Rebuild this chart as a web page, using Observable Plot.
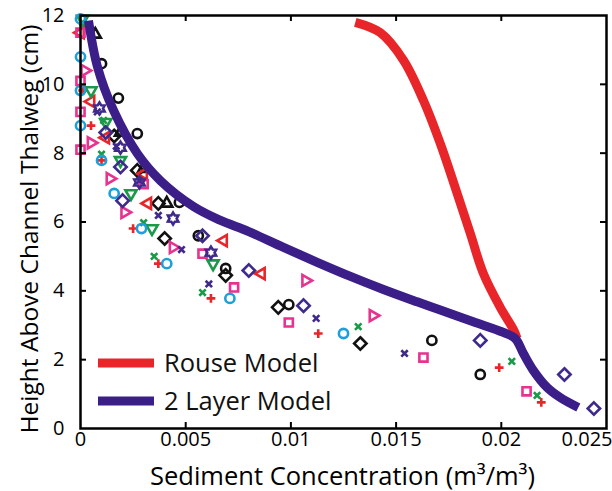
<!DOCTYPE html>
<html><head><meta charset="utf-8">
<script src="https://cdn.jsdelivr.net/npm/d3@7"></script>
<script src="https://cdn.jsdelivr.net/npm/@observablehq/plot@0.6"></script>
<style>
body{margin:0;background:#fff;font-family:"Open Sans",sans-serif}
#chart{position:relative;width:612px;height:491px;overflow:hidden}
</style>
</head><body><div id="chart"></div>
<script>
// ---- axes ----
const xTicks=[0,0.005,0.01,0.015,0.02,0.025];
const xTickLabels=["0","0.005","0.01","0.015","0.02","0.025"];
const yTicks=[0,2,4,6,8,10,12];
const xInner=[0.005,0.01,0.015,0.02];
const yInner=[2,4,6,8,10];
const xLabel="Sediment Concentration (m³/m³)";
const yLabel="Height Above Channel Thalweg (cm)";
const legendLabels=["Rouse Model","2 Layer Model"];

// ---- model curves ----
const rouseC=[0.01306,0.01425,0.01535,0.0163,0.0171,0.01781,0.01853,0.01915,0.01995,0.0206,0.02075];
const rouseH=[11.8,11.5,10.7,9.53,8.28,7.0,5.66,4.5,3.52,2.85,2.62];
const layerC=[0.00038,0.00081,0.00157,0.0027,0.0038,0.00537,0.0066,0.0080,0.00965,0.01125,0.01283,0.0144,0.0160,0.0171,0.01867,0.0201,0.02067,0.02105,0.02152,0.02218,0.0228,0.02366];
const layerH=[11.85,10.5,9.24,7.99,7.2,6.45,6.06,5.72,5.26,4.83,4.42,4.04,3.68,3.44,3.1,2.79,2.61,2.18,1.69,1.19,0.9,0.61];

// ---- measured points [concentration, height] ----
const blackCircle=[[0.0010,10.6],[0.0018,9.6],[0.0027,8.57],[0.0047,6.57],[0.0056,5.6],[0.0069,4.65],[0.0099,3.6],[0.0167,2.56],[0.0190,1.57]];
const blackDiamond=[[0.0016,8.5],[0.0027,7.5],[0.0037,6.54],[0.0040,5.52],[0.0069,4.45],[0.0094,3.52],[0.0133,2.47]];
const blackTriUp=[[0.0007,11.45],[0.0019,8.6],[0.0030,7.55],[0.0041,6.54]];
const redTriLeft=[[0.0000,11.5],[0.0005,9.5],[0.0012,8.45],[0.0030,7.4],[0.0032,6.54],[0.0068,5.46],[0.0086,4.5]];
const redPlus=[[0.0001,9.82],[0.0005,8.8],[0.0010,7.79],[0.0025,5.81],[0.0037,4.79],[0.0062,3.78],[0.0113,2.76],[0.0199,1.77],[0.0219,0.76]];
const greenTriDown=[[0.0001,11.9],[0.0005,9.82],[0.0012,8.9],[0.0019,7.79],[0.0024,6.83],[0.0034,5.81],[0.0063,4.79]];
const greenX=[[0.0001,11.8],[0.0011,8.95],[0.0010,7.97],[0.0030,5.98],[0.0035,5.0],[0.0058,3.95],[0.0132,2.96],[0.0205,1.95],[0.0217,0.96]];
const cyanCircle=[[0.0000,11.9],[0.0000,10.8],[0.0000,9.82],[0.0000,8.8],[0.0010,7.79],[0.0016,6.83],[0.0029,5.81],[0.0041,4.79],[0.0071,3.78],[0.0125,2.76]];
const magentaSquare=[[0.0000,11.5],[0.0000,10.1],[0.0000,9.2],[0.0000,8.1],[0.0030,7.1],[0.0058,5.08],[0.0073,4.1],[0.0099,3.08],[0.0163,2.06],[0.0212,1.08]];
const magentaTriRight=[[0.0002,10.4],[0.0005,8.3],[0.0014,7.26],[0.0021,6.28],[0.0044,5.26],[0.0107,4.3],[0.0139,3.28]];
const purpleDiamond=[[0.0012,8.6],[0.0019,7.6],[0.0020,6.62],[0.0058,5.6],[0.0080,4.59],[0.0106,3.57],[0.0190,2.56],[0.0230,1.57],[0.0244,0.58]];
const purpleX=[[0.0008,9.2],[0.0017,8.2],[0.0028,7.2],[0.0037,6.19],[0.0048,5.2],[0.0061,4.2],[0.0112,3.2],[0.0154,2.18]];
const purpleHex=[[0.0009,9.3],[0.0019,8.16],[0.0028,7.15],[0.0044,6.1],[0.0062,5.11]];

// ---- colours ----
const C={black:"#111111",red:"#e8262a",green:"#1a9a48",cyan:"#1ba0dc",magenta:"#e6338f",purple:"#3f2a8c",rouse:"#e8262a",layer:"#3b1e87"};

// ---- custom symbols ----
function poly(angles,k){return {draw(ctx,size){const R=Math.sqrt(size/Math.PI)*k;angles.forEach((a,i)=>{const t=a*Math.PI/180;const x=R*Math.cos(t),y=R*Math.sin(t);i?ctx.lineTo(x,y):ctx.moveTo(x,y);});ctx.closePath();}};}
const symTriUp=poly([-90,30,150],1.4);
const symTriDown=poly([90,210,330],1.4);
const symTriLeft=poly([180,300,60],1.4);
const symTriRight=poly([0,120,240],1.4);
const symDiamond=poly([-90,0,90,180],1.35);
const symSquare=poly([-135,-45,45,135],1.25);
const symCircle={draw(ctx,size){const R=Math.sqrt(size/Math.PI);ctx.moveTo(R,0);ctx.arc(0,0,R,0,2*Math.PI);}};
const symPlus={draw(ctx,size){const R=Math.sqrt(size/Math.PI)*0.95;ctx.moveTo(-R,0);ctx.lineTo(R,0);ctx.moveTo(0,-R);ctx.lineTo(0,R);}};
const symX={draw(ctx,size){const R=Math.sqrt(size/Math.PI)*0.7;ctx.moveTo(-R,-R);ctx.lineTo(R,R);ctx.moveTo(-R,R);ctx.lineTo(R,-R);}};
const symHex={draw(ctx,size){const R=Math.sqrt(size/Math.PI)*1.3,r=R*0.6;for(let i=0;i<12;i++){const t=(-90+i*30)*Math.PI/180;const rr=i%2?r:R;const x=rr*Math.cos(t),y=rr*Math.sin(t);i?ctx.lineTo(x,y):ctx.moveTo(x,y);}ctx.closePath();}};

const series=[
 [blackCircle,symCircle,C.black],[blackDiamond,symDiamond,C.black],[blackTriUp,symTriUp,C.black],
 [redTriLeft,symTriLeft,C.red],[redPlus,symPlus,C.red],
 [greenTriDown,symTriDown,C.green],[greenX,symX,C.green],
 [cyanCircle,symCircle,C.cyan],
 [magentaSquare,symSquare,C.magenta],[magentaTriRight,symTriRight,C.magenta],
 [purpleDiamond,symDiamond,C.purple],[purpleX,symX,C.purple],[purpleHex,symHex,C.purple]
];

const W=612,H=491,mL=80,mR=6,mT=15,mB=63;
const pw=W-mL-mR, ph=H-mT-mB;
const rouse=rouseC.map((c,i)=>({c,h:rouseH[i]}));
const layer=layerC.map((c,i)=>({c,h:layerH[i]}));

const marks=[
 ...series.map(([d,s,col])=>Plot.dot(d,{x:d=>d[0],y:d=>d[1],r:4.6,symbol:s,stroke:col,fill:"none",strokeWidth:2.6})),
 Plot.line(rouse,{x:"c",y:"h",stroke:C.rouse,strokeWidth:9,curve:"catmull-rom",strokeLinecap:"butt"}),
 Plot.line(layer,{x:"c",y:"h",stroke:C.layer,strokeWidth:9,curve:"catmull-rom",strokeLinecap:"butt"}),
 Plot.frame({stroke:"#000",strokeWidth:2.5}),
 Plot.ruleX(xInner,{stroke:"#000",strokeWidth:2,insetBottom:ph-6}),
 Plot.ruleX(xInner,{stroke:"#000",strokeWidth:2,insetTop:ph-6}),
 Plot.ruleY(yInner,{stroke:"#000",strokeWidth:2,insetRight:pw-6}),
 Plot.ruleY(yInner,{stroke:"#000",strokeWidth:2,insetLeft:pw-6}),
 Plot.axisX({ticks:xTicks,tickFormat:d=>xTickLabels[xTicks.indexOf(d)],tickSize:0,tickPadding:3,fontSize:20,label:null}),
 Plot.axisY({ticks:yTicks,tickFormat:d=>String(d),tickSize:0,tickPadding:16,fontSize:20,label:null}),
 Plot.text([xLabel],{text:d=>d,frameAnchor:"bottom",dx:-1,dy:56,fontSize:25.5,lineAnchor:"bottom"}),
 Plot.text([yLabel],{text:d=>d,frameAnchor:"left",rotate:-90,dx:-50,dy:7,fontSize:24.5,textAnchor:"middle"})
];

const svg=Plot.plot({
 width:W,height:H,marginLeft:mL,marginRight:mR,marginTop:mT,marginBottom:mB,
 x:{domain:[0,0.025]},y:{domain:[0,12]},
 style:{fontFamily:"Open Sans, sans-serif",color:"#000",background:"#fff",overflow:"visible"},
 marks
});
document.getElementById("chart").appendChild(svg);

// right-align last x tick label like the reference
d3.select(svg).selectAll("text").filter(function(){return this.textContent===xTickLabels[xTickLabels.length-1];})
 .attr("text-anchor","end").attr("dx","6");

// legend
const lg=d3.select(svg).append("g").attr("font-family","Open Sans, sans-serif").attr("font-size",25.5).attr("text-anchor","start");
[[C.rouse,legendLabels[0],363],[C.layer,legendLabels[1],401]].forEach(([col,lab,y])=>{
 lg.append("line").attr("x1",98).attr("x2",154).attr("y1",y).attr("y2",y).attr("stroke",col).attr("stroke-width",9);
 lg.append("text").attr("x",164).attr("y",y).attr("dy","0.36em").attr("text-anchor","start").attr("fill","#111").text(lab);
});
</script>
</body></html>
